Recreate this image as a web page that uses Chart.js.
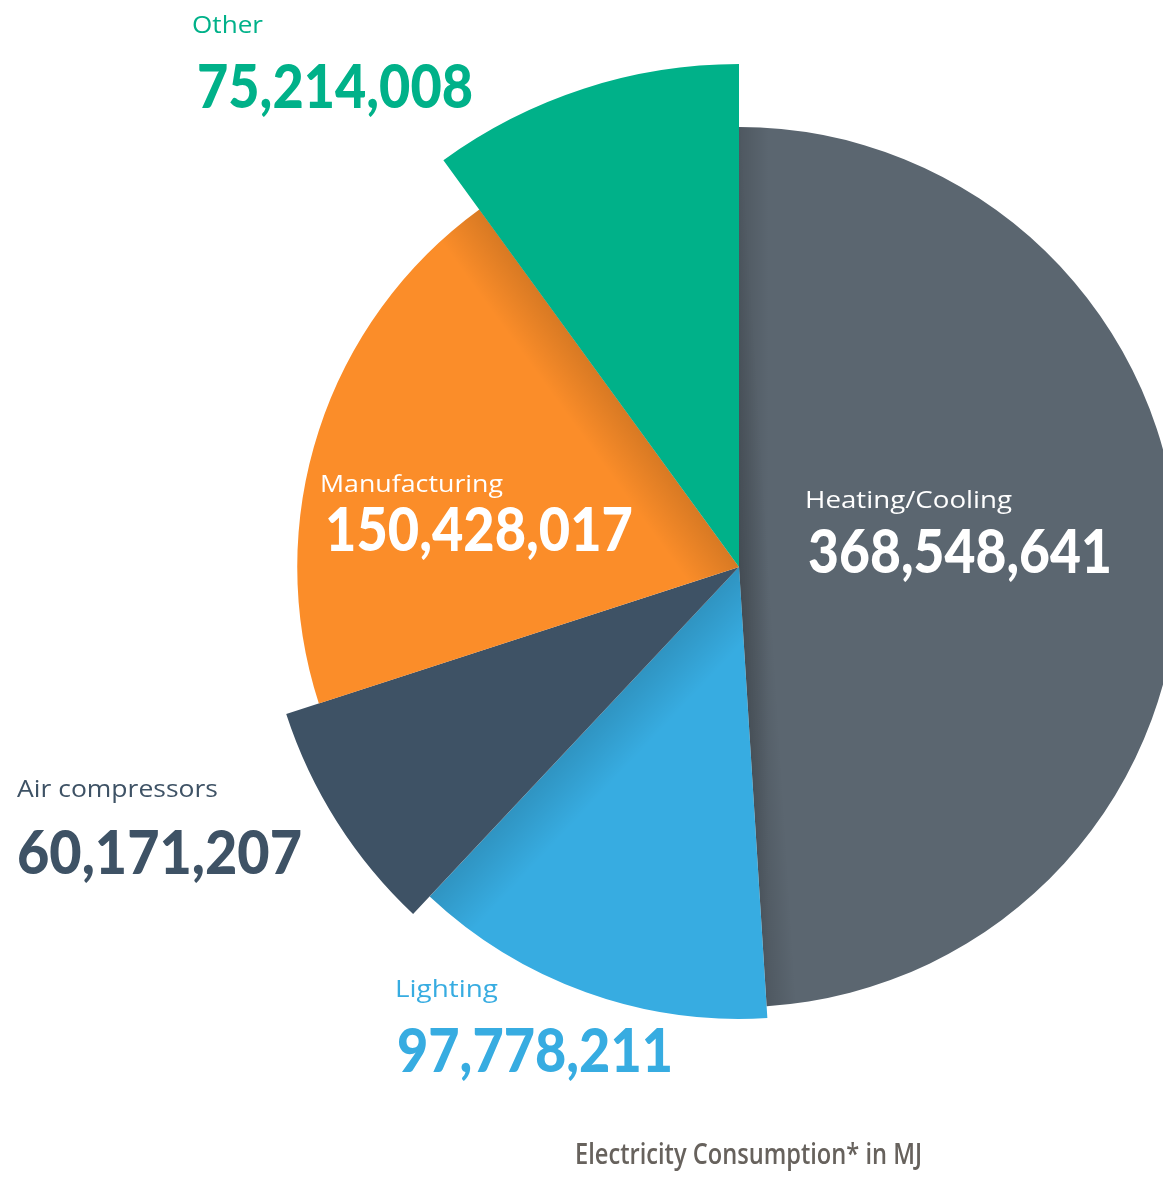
<!DOCTYPE html>
<html>
<head>
<meta charset="utf-8">
<script src="https://cdn.jsdelivr.net/npm/chart.js@4.4.1/dist/chart.umd.min.js"></script>
<style>
  html, body { margin: 0; padding: 0; background: #fff; }
  #wrap { width: 1163px; height: 1178px; position: relative; }
</style>
</head>
<body>
<div id="wrap"><canvas id="myChart"></canvas></div>
<script>
var labels = ["Heating/Cooling", "Lighting", "Air compressors", "Manufacturing", "Other"];
var values = [368548641, 97778211, 60171207, 150428017, 75214008];
var sliceColors = ["#5B6670", "#37ACE1", "#3E5265", "#FB8D29", "#00B189"];
var labelColors = ["#FFFFFF", "#37ACE1", "#3E5265", "#FFFFFF", "#00B189"];
var chartTitle = "Electricity Consumption* in MJ";

// how far each slice reaches out, relative to the base radius
var radiusScale = [1, 1.027, 1.082, 1.004, 1.143];
// label spots relative to the pie centre: [name x, name baseline, number x, number baseline, name width, number width]
var labelSpots = [
  [66, -59, 69, 6, 207, 304],
  [-344, 430, -342, 505, 103, 276],
  [-722, 230, -722, 307, 201, 285],
  [-419, -75, -414, -16, 183, 308],
  [-547, -534, -542, -459, 71, 276]
];
// soft shadows: [slice, edge (0 = start, 1 = end), width]
var shadowEdges = [[0, 0, 30], [0, 1, 30], [1, 1, 55], [3, 1, 50]];

function fitText(ctx, text, x, y, font, width, color) {
  ctx.font = font;
  var w = ctx.measureText(text).width;
  ctx.save();
  ctx.translate(x, y);
  ctx.scale(width / w, 1);
  ctx.fillStyle = color;
  ctx.textBaseline = "alphabetic";
  ctx.textAlign = "left";
  ctx.fillText(text, 0, 0);
  ctx.restore();
}

var radiusPlugin = {
  id: "radiusPlugin",
  beforeDatasetsDraw: function (chart) {
    var meta = chart.getDatasetMeta(0);
    var base = meta.controller.outerRadius;
    meta.data.forEach(function (el, i) {
      el.outerRadius = base * radiusScale[i];
    });
  },
  afterDatasetsDraw: function (chart) {
    var ctx = chart.ctx;
    var arcs = chart.getDatasetMeta(0).data;

    shadowEdges.forEach(function (s) {
      var el = arcs[s[0]];
      var a = s[1] ? el.endAngle : el.startAngle;
      var dir = s[1] ? -1 : 1;
      var nx = -Math.sin(a) * dir, ny = Math.cos(a) * dir;
      ctx.save();
      ctx.beginPath();
      ctx.moveTo(el.x, el.y);
      ctx.arc(el.x, el.y, el.outerRadius, el.startAngle, el.endAngle);
      ctx.closePath();
      ctx.clip();
      var g = ctx.createLinearGradient(el.x, el.y, el.x + nx * s[2], el.y + ny * s[2]);
      g.addColorStop(0, "rgba(0,0,0,0.14)");
      g.addColorStop(1, "rgba(0,0,0,0)");
      ctx.fillStyle = g;
      ctx.fillRect(0, 0, chart.width, chart.height);
      ctx.restore();
    });

    var cx = arcs[0].x, cy = arcs[0].y;
    arcs.forEach(function (el, i) {
      var s = labelSpots[i];
      fitText(ctx, labels[i], cx + s[0], cy + s[1], "400 23px 'Open Sans'", s[4], labelColors[i]);
      fitText(ctx, values[i].toLocaleString("en-US"), cx + s[2], cy + s[3], "900 61px Lato", s[5], labelColors[i]);
    });
    fitText(ctx, chartTitle, cx - 164, cy + 597, "600 29px 'Open Sans'", 347, "#67625D");
  }
};

new Chart("myChart", {
  type: "pie",
  data: {
    labels: labels,
    datasets: [
      {
        data: values,
        backgroundColor: sliceColors,
        borderWidth: 0,
        radius: 440
      }
    ]
  },
  plugins: [radiusPlugin],
  options: {
    responsive: true,
    maintainAspectRatio: false,
    animation: false,
    layout: { padding: { left: 315, right: 0, top: 0, bottom: 44 } },
    plugins: {
      legend: { display: false },
      tooltip: { enabled: false },
      title: { display: false }
    }
  }
});
</script>
</body>
</html>
